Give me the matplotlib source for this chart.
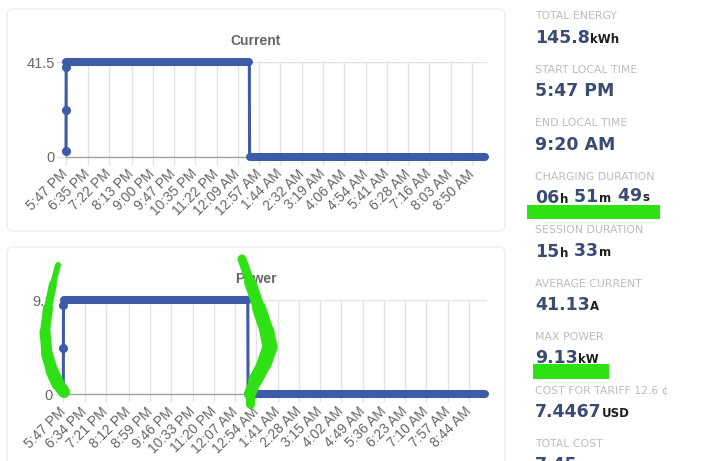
import matplotlib
matplotlib.use("Agg")
import matplotlib.pyplot as plt
from matplotlib.patches import FancyBboxPatch, Rectangle

# ---------------- data ----------------
start_label = "5:47 PM"
current_tick_labels = ["5:47 PM", "6:35 PM", "7:22 PM", "8:13 PM", "9:00 PM", "9:47 PM",
                       "10:35 PM", "11:22 PM", "12:09 AM", "12:57 AM", "1:44 AM", "2:32 AM",
                       "3:19 AM", "4:06 AM", "4:54 AM", "5:41 AM", "6:28 AM", "7:16 AM",
                       "8:03 AM", "8:50 AM"]
power_tick_labels = ["5:47 PM", "6:34 PM", "7:21 PM", "8:12 PM", "8:59 PM", "9:46 PM",
                     "10:33 PM", "11:20 PM", "12:07 AM", "12:54 AM", "1:41 AM", "2:28 AM",
                     "3:15 AM", "4:02 AM", "4:49 AM", "5:36 AM", "6:23 AM", "7:10 AM",
                     "7:57 AM", "8:44 AM"]

# minutes after session start
sample_minutes = [0.0, 0.2, 0.4, 0.6, 408.0, 408.6, 933.0]
current_amps = [2.6, 20.5, 39.6, 41.5, 41.5, 0.0, 0.0]
power_kw = [0.64, 4.5, 8.6, 9.13, 9.13, 0.0, 0.0]

stat_labels = ["TOTAL ENERGY", "START LOCAL TIME", "END LOCAL TIME", "CHARGING DURATION",
               "SESSION DURATION", "AVERAGE CURRENT", "MAX POWER",
               "COST FOR TARIFF 12.6 \u00a2", "TOTAL COST"]
stat_values = [
    [("145.8", True), ("kWh", False)],
    [("5:47 PM", True)],
    [("9:20 AM", True)],
    [("06", True), ("h", False), (" 51", True), ("m", False), (" 49", True), ("s", False)],
    [("15", True), ("h", False), (" 33", True), ("m", False)],
    [("41.13", True), ("A", False)],
    [("9.13", True), ("kW", False)],
    [("7.4467", True), ("USD", False)],
    [("7.45", True), ("USD", False)],
]

# ---------------- style ----------------
W, H = 727, 461
BLUE = "#3d5ba7"
GRID = "#e3e3e3"
AXIS = "#a5a5a5"
TXT = "#666666"
VAL = "#3a4c71"
UNIT = "#1e1e1e"
LBL = "#bcbcbc"
GREEN = "#2ee014"


def to_minutes(label):
    hm, ap = label.split()
    h, m = (int(p) for p in hm.split(":"))
    h = h % 12 + (12 if ap == "PM" else 0)
    return h * 60 + m


def offsets(labels):
    m0 = to_minutes(start_label)
    return [(to_minutes(l) - m0) % 1440 for l in labels]


fig = plt.figure(figsize=(W / 100, H / 100), dpi=100)
fig.patch.set_facecolor("white")

under = fig.add_axes([0, 0, 1, 1], zorder=0)
under.set_xlim(0, W)
under.set_ylim(H, 0)
under.axis("off")

over = fig.add_axes([0, 0, 1, 1], zorder=10)
over.set_xlim(0, W)
over.set_ylim(H, 0)
over.axis("off")
over.patch.set_alpha(0)

# cards
for (x0, y0, w, h) in [(7, 9, 498, 222), (7, 247, 498, 230)]:
    under.add_patch(FancyBboxPatch((x0, y0), w, h, boxstyle="round,pad=0,rounding_size=6",
                                   facecolor="white", edgecolor="#efefef", lw=1.0))


def px_axes(x0, x1, ytop, ybot, z=1):
    return fig.add_axes([x0 / W, 1 - ybot / H, (x1 - x0) / W, (ybot - ytop) / H], zorder=z)


def draw_series(ax, t, v):
    ax.plot(t, v, color=BLUE, lw=2.2, solid_capstyle="round", clip_on=False, zorder=3)
    n = len(v)
    in_plateau = [False] * n
    for i in range(n - 1):
        if v[i] == v[i + 1]:
            ax.plot(t[i:i + 2], v[i:i + 2], color=BLUE, lw=5.8, solid_capstyle="round",
                    clip_on=False, zorder=4)
            in_plateau[i] = in_plateau[i + 1] = True
    dt = [t[i] for i in range(n) if not in_plateau[i]]
    dv = [v[i] for i in range(n) if not in_plateau[i]]
    ax.plot(dt, dv, "o", color=BLUE, ms=5.5, clip_on=False, zorder=5)


def setup(ax, labels, ymax):
    ax.set_facecolor("none")
    ax.set_xlim(0, 937)
    ax.set_ylim(0, ymax)
    ax.set_xticks(offsets(labels))
    ax.set_xticklabels(labels, rotation=45, ha="right", va="center", rotation_mode="anchor",
                       fontsize=10, color=TXT, family="Liberation Sans")
    ax.set_yticks([0, ymax])
    ax.set_yticklabels(["0", f"{ymax:.1f}"], fontsize=10.5, color=TXT, family="Liberation Sans")
    ax.tick_params(axis="x", length=5.8, color=GRID, width=1, pad=5)
    ax.tick_params(axis="y", length=7.5, color=GRID, width=1, pad=0.5)
    ax.grid(True, color=GRID, lw=1)
    ax.set_axisbelow(True)
    for s in ["top", "right"]:
        ax.spines[s].set_visible(False)
    for s in ["bottom", "left"]:
        ax.spines[s].set_color(AXIS)
        ax.spines[s].set_linewidth(1)


ax1 = px_axes(66, 487, 62.3, 156.7)
setup(ax1, current_tick_labels, max(current_amps))
draw_series(ax1, sample_minutes, current_amps)

ax2 = px_axes(63.3, 487, 300, 394.3)
setup(ax2, power_tick_labels, max(power_kw))
draw_series(ax2, sample_minutes, power_kw)

under.text(256, 41, "Current", ha="center", va="center", fontsize=10, fontweight="bold",
           color=TXT, family="Liberation Sans")
under.text(256, 279, "Power", ha="center", va="center", fontsize=10, fontweight="bold",
           color=TXT, family="Liberation Sans")

# ---------------- right panel ----------------
label_y = [16, 70, 123, 177, 230, 284, 337, 390, 444]
value_base = [43, 96, 150, 203, 257, 310, 363, 417, 470]
X0 = 535

# highlight bars (drawn under the text)
over.add_patch(Rectangle((527, 205), 133, 14, facecolor=GREEN, edgecolor="none", zorder=1))
over.add_patch(Rectangle((533, 364), 76, 15, facecolor=GREEN, edgecolor="none", zorder=1))

for lab, ly in zip(stat_labels, label_y):
    over.text(X0, ly, lab, ha="left", va="center", fontsize=7.8, color=LBL,
              family="DejaVu Sans", zorder=3)

BIG, SMALL = 12.5, 8.5
for parts, yb in zip(stat_values, value_base):
    prev = None
    for text, big in parts:
        kw = dict(fontsize=BIG if big else SMALL, fontweight="bold",
                  color=VAL if big else UNIT, family="DejaVu Sans", zorder=3,
                  annotation_clip=False)
        if prev is None:
            prev = over.annotate(text, xy=(X0, yb), xycoords="data", ha="left",
                                 va="baseline", **kw)
        else:
            prev = over.annotate(text, xy=(1, 0), xycoords=prev, xytext=(0.3, 0.236 * BIG),
                                 textcoords="offset points", ha="left", va="baseline", **kw)

# ---------------- hand-drawn green marks ----------------
def stroke(points, widths):
    for i in range(len(points) - 1):
        (xa, ya), (xb, yb) = points[i], points[i + 1]
        over.plot([xa, xb], [ya, yb], color=GREEN, lw=widths[i] * 0.72,
                  solid_capstyle="round", zorder=2)


stroke([(58, 265), (53, 284), (48, 308), (45, 332), (47, 354), (52, 371), (58, 384), (64, 392)],
       [6, 8, 10, 11, 12, 13, 12])
stroke([(242, 259), (250, 282), (259, 308), (267, 332), (270, 347), (264, 364), (255, 381),
        (250, 394), (250, 404)],
       [9, 12, 14, 15, 15, 14, 12, 9])

fig.savefig("out.png", dpi=100)
